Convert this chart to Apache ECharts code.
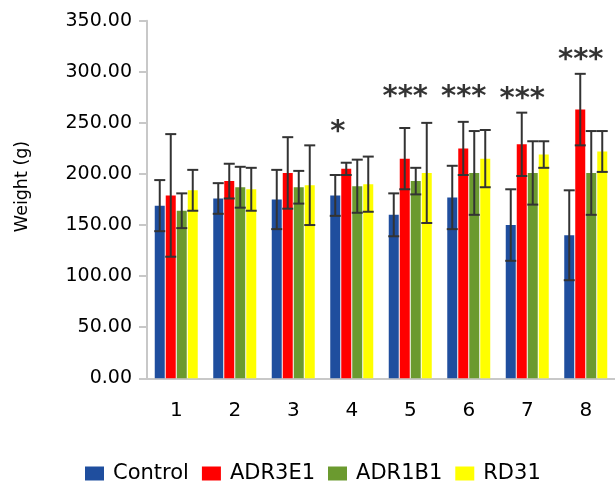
<!DOCTYPE html>
<html>
<head>
<meta charset="utf-8">
<script src="https://cdn.jsdelivr.net/npm/echarts@6/dist/echarts.min.js"></script>
<style>html,body{margin:0;padding:0;background:#fff;}#c{width:615px;height:488px;}</style>
</head>
<body>
<div id="c"></div>
<script>
var categories = ['1','2','3','4','5','6','7','8'];
var seriesNames = ['Control','ADR3E1','ADR1B1','RD31'];
var controlMean = [169, 176, 175, 179, 160, 177, 150, 140];
var controlErr  = [25, 15, 29, 20, 21, 31, 35, 44];
var adr3e1Mean  = [179, 193, 201, 205, 215, 225, 229, 263];
var adr3e1Err   = [60, 17, 35, 6, 30, 26, 31, 35];
var adr1b1Mean  = [164, 187, 187, 188, 193, 201, 201, 201];
var adr1b1Err   = [17, 20, 16, 26, 13, 41, 31, 41];
var rd31Mean    = [184, 185, 189, 190, 201, 215, 219, 222];
var rd31Err     = [20, 21, 39, 27, 49, 28, 13, 20];
var yTicks = [0, 50, 100, 150, 200, 250, 300, 350];
var starCats   = ['4','5','6','7','8'];
var starLabels = ['*','***','***','***','***'];
var starLevels = [247, 282, 282, 280, 318];

var colors = ['#1F4E9E', '#FF0000', '#6B9A2F', '#FFFF00'];
var means = [controlMean, adr3e1Mean, adr1b1Mean, rd31Mean];
var errs = [controlErr, adr3e1Err, adr1b1Err, rd31Err];
var FONT = 'DejaVu Sans';
var BAR_W = 10, PITCH = 11;

var series = [];
means.forEach(function (m, i) {
  series.push({
    name: seriesNames[i], type: 'bar', data: m,
    barWidth: BAR_W, barGap: '10%',
    itemStyle: { color: colors[i] }, z: 2
  });
});
means.forEach(function (m, i) {
  var off = (i - 1.5) * PITCH;
  series.push({
    type: 'custom', z: 5, silent: true,
    data: m.map(function (v, k) { return [k, v, errs[i][k]]; }),
    renderItem: function (params, api) {
      var k = api.value(0), v = api.value(1), e = api.value(2);
      var top = api.coord([k, v + e]);
      var bot = api.coord([k, v - e]);
      var x = top[0] + off;
      var st = { stroke: '#333333', lineWidth: 2 };
      return { type: 'group', children: [
        { type: 'line', shape: { x1: x, y1: top[1], x2: x, y2: bot[1] }, style: st },
        { type: 'line', shape: { x1: x - 5.5, y1: top[1], x2: x + 5.5, y2: top[1] }, style: st },
        { type: 'line', shape: { x1: x - 5.5, y1: bot[1], x2: x + 5.5, y2: bot[1] }, style: st }
      ]};
    }
  });
});
series.push({
  type: 'scatter', symbolSize: 0, z: 6, silent: true,
  data: starCats.map(function (c, k) {
    return { value: [c, starLevels[k]],
      label: { offset: [starLabels[k].length === 1 ? -14 : -5, 7] } };
  }),
  label: {
    show: true, position: 'inside',
    formatter: function (p) { return starLabels[p.dataIndex]; },
    fontFamily: FONT, fontSize: 29, fontWeight: 'bold', color: '#000'
  }
});

var chart = echarts.init(document.getElementById('c'), null, { renderer: 'canvas' });
chart.setOption({
  animation: false,
  backgroundColor: '#fff',
  grid: { left: 147, top: 20.7, bottom: 109.7, right: -13 },
  legend: {
    data: seriesNames, left: 80, top: 458,
    icon: 'rect', itemWidth: 19, itemHeight: 14, itemGap: 13,
    textStyle: { fontFamily: FONT, fontSize: 21, color: '#000', padding: [0, 0, 0, 4] }
  },
  xAxis: {
    type: 'category', data: categories,
    axisLine: { lineStyle: { color: '#C8C8C8', width: 2 } },
    axisTick: { show: false },
    axisLabel: { fontFamily: FONT, fontSize: 20, color: '#000', margin: 22 }
  },
  yAxis: {
    type: 'value', min: yTicks[0], max: yTicks[yTicks.length - 1], interval: 50,
    name: 'Weight (g)', nameLocation: 'middle', nameGap: 116,
    nameTextStyle: { fontFamily: FONT, fontSize: 17.5, color: '#000', padding: [0, 0, 0, 26] },
    axisLine: { show: true, lineStyle: { color: '#C8C8C8', width: 2 } },
    axisTick: { show: true, length: 8, lineStyle: { color: '#C8C8C8', width: 2 } },
    splitLine: { show: false },
    axisLabel: { fontFamily: FONT, fontSize: 19, color: '#000', margin: 15,
      formatter: function (v) { return v.toFixed(2); } }
  },
  series: series
});
</script>
</body>
</html>
